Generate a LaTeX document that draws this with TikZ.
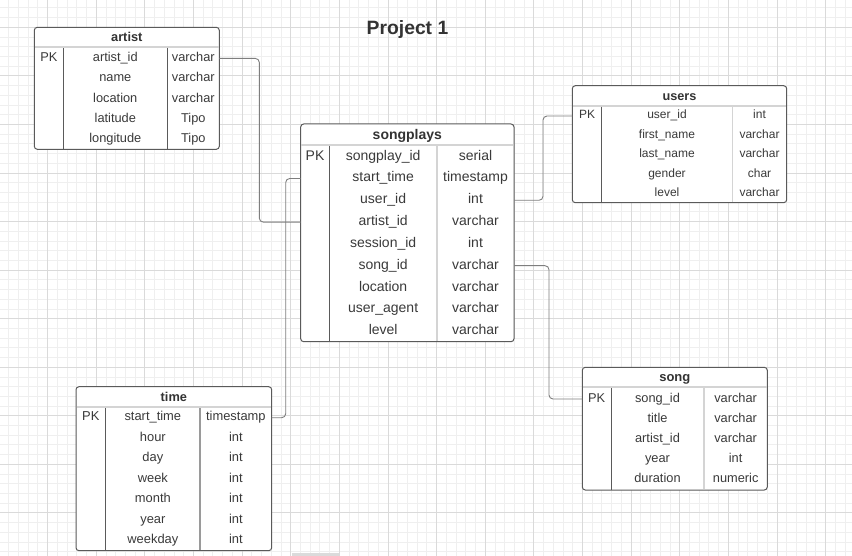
\documentclass[tikz,border=0pt]{standalone}
\usepackage{fontspec}
\setmainfont{Liberation Sans}
\definecolor{gridminor}{HTML}{EFEFEF}
\definecolor{gridmajor}{HTML}{DADADA}
\definecolor{boxline}{HTML}{5A5A5A}
\definecolor{seplight}{HTML}{D4D4D4}
\definecolor{divmid}{HTML}{9A9A9A}
\definecolor{txt}{HTML}{3A3A3A}
\definecolor{conncol}{HTML}{7E7E7E}
\tikzset{
  tbl/.style={draw=boxline, fill=white, line width=1pt, rounded corners=3pt, inner sep=0pt, outer sep=0pt},
  hdrsep/.style={draw=seplight, line width=1.8pt},
  divA/.style={draw=boxline, line width=1pt},
  divB/.style={line width=1.6pt},
  conn/.style={draw=conncol, line width=0.9pt, rounded corners=4pt},
}
\newcommand\erbox[9]{%
  \node[tbl, minimum width={(#4)-(#2)}, minimum height={(#5)-(#3)}] (#1) at ({((#2)+(#4))/2},{((#3)+(#5))/2}) {};
  \draw[hdrsep] ({(#2)+0.6},#6) -- ({(#4)-0.6},#6);
  \draw[divA] (#7,{(#6)+0.9}) -- (#7,{(#5)-0.5});
  \draw[divB,draw=#9] (#8,{(#6)+0.9}) -- (#8,{(#5)-0.6});
  \pgfmathsetmacro\erK{((#2)+(#7))/2}%
  \pgfmathsetmacro\erN{((#7)+(#8))/2}%
  \pgfmathsetmacro\erT{((#8)+(#4))/2}%
  \pgfmathsetmacro\erC{((#2)+(#4))/2}%
  \pgfmathsetmacro\erH{((#3)+(#6))/2+1.2}%
}
\newcommand\errows[7]{%
  \node[inner sep=0pt, text=black!80, text height={0.7*(#3)}, text depth={0.2*(#3)}, font=\bfseries\fontsize{#3}{#3}\selectfont] (#1-title) at (\erC,\erH) {#2};
  \node[inner sep=0pt, text=txt, text height={0.7*(#6)}, text depth={0.2*(#6)}, font=\fontsize{#6}{#6}\selectfont] (#1-pk) at (\erK,{(#4)+1.5}) {PK};
  \foreach \n/\t [count=\i] in {#7}{
    \node[inner sep=0pt, text=txt, text height={0.7*(#6)}, text depth={0.2*(#6)}, font=\fontsize{#6}{#6}\selectfont] (#1-n\i) at (\erN,{(#4)+1.5+(\i-1)*(#5)}) {\n};
    \node[inner sep=0pt, text=txt, text height={0.7*(#6)}, text depth={0.2*(#6)}, font=\fontsize{#6}{#6}\selectfont] (#1-t\i) at (\erT,{(#4)+1.5+(\i-1)*(#5)}) {\t};
  }%
}
\begin{document}
\begin{tikzpicture}[x=1pt,y=-1pt]
\useasboundingbox (0,0) rectangle (852,556);
\fill[white] (0,0) rectangle (852,556);
% grid
\foreach \i in {0,...,86} \draw[gridminor, line width=0.9pt] ({8.7+\i*9.725},0) -- ({8.7+\i*9.725},556);
\foreach \j in {0,...,56} \draw[gridminor, line width=0.9pt] (0,{7.9+\j*9.712}) -- (852,{7.9+\j*9.712});
\foreach \i in {0,...,16} \draw[gridmajor, line width=0.9pt] ({47.6+\i*48.63},0) -- ({47.6+\i*48.63},556);
\foreach \j in {0,...,10} \draw[gridmajor, line width=0.9pt] (0,{27.3+\j*48.56}) -- (852,{27.3+\j*48.56});
\fill[black!14] (292,553) rectangle (339,556);

% title
\node[inner sep=0pt, text=black!80, font=\bfseries\fontsize{19.3}{20}\selectfont] (title) at (407.5,29.5) {Project 1};

% tables
\erbox{artist}{34.3}{27.3}{219.3}{149.3}{47.3}{63.3}{167.3}{boxline}
\errows{artist}{artist}{12.8}{56.9}{20.25}{12.8}{artist\_id/varchar, name/varchar, location/varchar, latitude/Tipo, longitude/Tipo}

\erbox{songplays}{300.7}{124}{514}{341.7}{145}{329.3}{437}{seplight}
\errows{songplays}{songplays}{14}{155.2}{21.8}{14}{songplay\_id/serial, start\_time/timestamp, user\_id/int, artist\_id/varchar, session\_id/int, song\_id/varchar, location/varchar, user\_agent/varchar, level/varchar}

\erbox{users}{572.3}{85.7}{786.7}{202.7}{105.7}{601.7}{732.3}{seplight}
\errows{users}{users}{12.7}{114.5}{19.5}{12}{user\_id/int, first\_name/varchar, last\_name/varchar, gender/char, level/varchar}

\erbox{song}{582.3}{367.3}{767.3}{490}{387.3}{611}{704}{seplight}
\errows{song}{song}{13}{397.5}{20.1}{12.8}{song\_id/varchar, title/varchar, artist\_id/varchar, year/int, duration/numeric}

\erbox{time}{76}{386.7}{271.7}{550.7}{407.3}{105.7}{200}{divmid}
\errows{time}{time}{12.8}{416.2}{20.5}{12.9}{start\_time/timestamp, hour/int, day/int, week/int, month/int, year/int, weekday/int}

% connectors
\draw[conn] (artist.east |- artist-t1) -- ++(40,0) |- (songplays.west |- songplays-n4);
\draw[conn] (time.east |- time-t1) -- ++(14,0) |- (songplays.west |- songplays-n2);
\draw[conn] (songplays.east |- songplays-t3) -- ++(29,0) |- (users.west |- users-n1);
\draw[conn] (songplays.east |- songplays-t6) -- ++(35,0) |- (song.west |- song-n1);
\end{tikzpicture}
\end{document}
